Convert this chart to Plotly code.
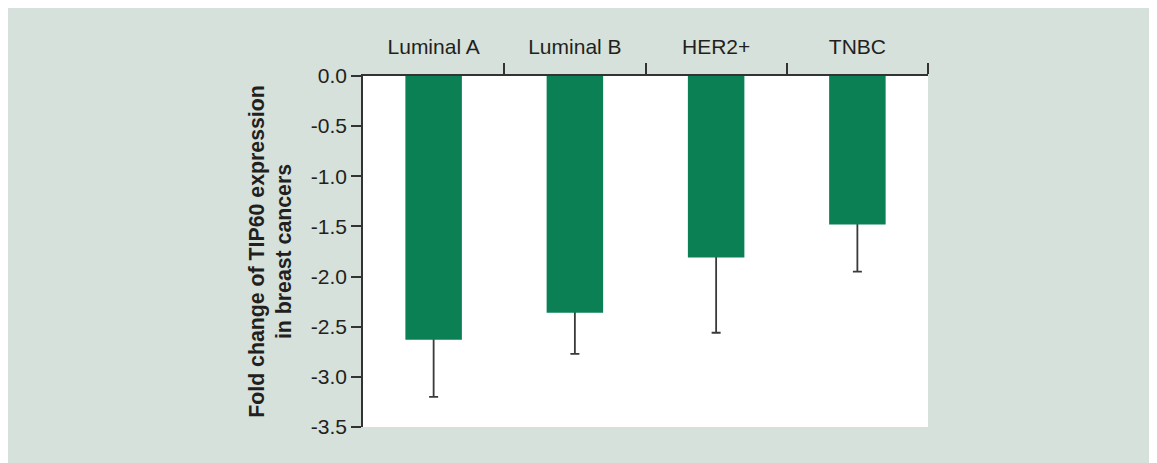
import plotly.graph_objects as go

categories = ["Luminal A", "Luminal B", "HER2+", "TNBC"]
fold_change = [-2.63, -2.36, -1.81, -1.48]
error_minus = [0.57, 0.41, 0.75, 0.47]

y_tickvals = [0.0, -0.5, -1.0, -1.5, -2.0, -2.5, -3.0, -3.5]
y_ticktext = ["0.0", "-0.5", "-1.0", "-1.5", "-2.0", "-2.5", "-3.0", "-3.5"]

BG = "#d5e1da"
GREEN = "#0a8054"
INK = "#231f20"
FONT = "Liberation Sans, Arial, sans-serif"

xpos = list(range(len(categories)))

fig = go.Figure()

# hidden bars carrying the error bars; upper part runs to 0 so the
# green bars drawn on top hide it and only the lower whisker shows
fig.add_trace(go.Bar(
    x=xpos, y=fold_change,
    width=0.4,
    marker=dict(color="rgba(0,0,0,0)", line=dict(width=0)),
    error_y=dict(
        type="data", symmetric=False,
        array=[-v for v in fold_change],
        arrayminus=error_minus,
        color="#3a3a3a", thickness=1.8, width=4.5,
    ),
    hoverinfo="skip",
    showlegend=False,
))

fig.add_trace(go.Bar(
    x=xpos, y=fold_change,
    width=0.4,
    marker=dict(color=GREEN, line=dict(width=0)),
    showlegend=False,
))

fig.update_layout(
    width=1157, height=463,
    barmode="overlay",
    paper_bgcolor=BG,
    plot_bgcolor="white",
    margin=dict(l=355, r=237, t=68, b=44),
    font=dict(family=FONT, size=21, color=INK),
    xaxis=dict(
        range=[-0.5, 3.5],
        side="top",
        tickvals=xpos,
        ticktext=categories,
        ticks="",
        ticklabelstandoff=12,
        minor=dict(tickvals=[0.5, 1.5, 2.5, 3.5], ticks="outside",
                   ticklen=11, tickwidth=1.5, tickcolor="#333"),
        showline=True, linecolor="#333", linewidth=1.5,
        showgrid=False, zeroline=False,
        tickfont=dict(size=21, color=INK),
    ),
    yaxis=dict(
        range=[-3.5, 0],
        tickvals=y_tickvals,
        ticktext=y_ticktext,
        ticks="outside", ticklen=10, tickwidth=1.5, tickcolor="#333",
        showline=True, linecolor="#333", linewidth=1.5,
        showgrid=False, zeroline=False,
        tickfont=dict(size=21, color=INK),
        title=dict(
            text="<b>Fold change of TIP60 expression<br>in breast cancers</b>",
            font=dict(size=21.3, color=INK),
            standoff=13,
        ),
    ),
)

fig.write_html("out.html")
